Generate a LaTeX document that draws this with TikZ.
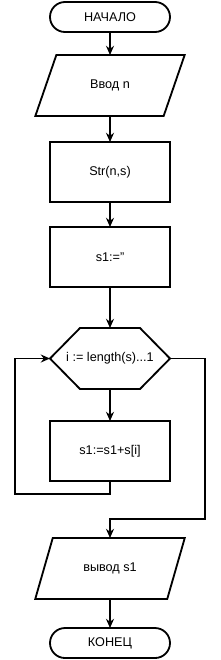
\documentclass[tikz,border=0pt]{standalone}
\usepackage{fontspec}
\setmainfont{Liberation Sans}
\usepackage{tikz}
\usetikzlibrary{arrows.meta,positioning,shapes.geometric,calc}
\tikzset{
  terminal/.style={draw=black, line width=1.3pt, outer sep=0pt, rounded corners=0.375cm, minimum width=3cm, minimum height=0.75cm, font=\fontsize{9}{10}\selectfont},
  dannye/.style={draw=black, line width=1.3pt, outer sep=0pt, trapezium, trapezium left angle=65, trapezium right angle=115, trapezium stretches=true, minimum width=3.75cm, minimum height=1.525cm, font=\fontsize{9}{10}\selectfont},
  process/.style={draw=black, line width=1.3pt, outer sep=0pt, minimum width=3cm, minimum height=1.5cm, font=\fontsize{9}{10}\selectfont},
  cikl/.style={minimum width=3cm, minimum height=1.525cm, outer sep=0pt, font=\fontsize{9}{10}\selectfont},
  arrflow/.style={-{Stealth[length=2.3mm, width=2mm]}, line width=1.3pt},
  liniya/.style={line width=1.3pt},
}
\begin{document}
\begin{tikzpicture}
\useasboundingbox (0,0) rectangle (5.5,-16.5);
% Blocks
\node[terminal] (start) at (2.75,-0.425) {НАЧАЛО};
\node[dannye, below=0.575cm of start] (vvod) {Ввод n};
\node[process, below=0.65cm of vvod] (str) {Str(n,s)};
\node[process, below=0.625cm of str] (init) {s1:=''};
\node[cikl, below=1.025cm of init] (cond) {i := length(s)...1};
\draw[liniya] (cond.west) -- ($(cond.north west)+(0.75,0)$) -- ($(cond.north east)+(-0.75,0)$) -- (cond.east)
  -- ($(cond.south east)+(-0.75,0)$) -- ($(cond.south west)+(0.75,0)$) -- cycle;
\node[process, below=0.8cm of cond] (body) {s1:=s1+s[i]};
\node[dannye, below=1.425cm of body] (vyvod) {вывод s1};
\node[terminal, below=0.725cm of vyvod] (stop) {КОНЕЦ};

% Arrows
\draw[arrflow] (start) -- (vvod);
\draw[arrflow] (vvod) -- (str);
\draw[arrflow] (str) -- (init);
\draw[arrflow] (init) -- (cond);
\draw[arrflow] (cond) -- (body);
\draw[arrflow] (body.south) -- ++(0,-0.325) -| ($(cond.west)+(-0.875,0)$) -- (cond.west);
\draw[arrflow] (cond.east) -- ++(0.875,0) |- ($(vyvod.north)+(0,0.475)$) -- (vyvod.north);
\draw[arrflow] (vyvod) -- (stop);
\end{tikzpicture}
\end{document}
